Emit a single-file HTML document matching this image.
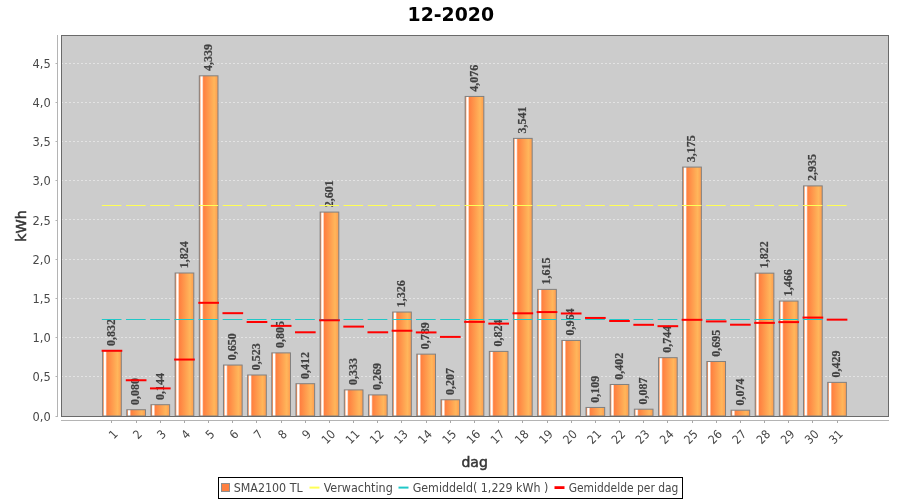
<!DOCTYPE html>
<html><head><meta charset="utf-8"><title>12-2020</title>
<style>
html,body{margin:0;padding:0;background:#fff;width:900px;height:500px;overflow:hidden}
svg{display:block}
.t{font-family:"DejaVu Sans Condensed","DejaVu Sans","Liberation Sans",sans-serif;font-size:12px;fill:#484848}
.b{font-family:"DejaVu Sans Condensed","DejaVu Sans","Liberation Sans",sans-serif;font-weight:bold;fill:#484848}
.a{font-family:"DejaVu Sans","Liberation Sans",sans-serif;font-size:13.6px;fill:#363636;stroke:#363636;stroke-width:0.5px}
.s{font-family:"Liberation Serif","DejaVu Serif",serif;font-weight:bold;font-size:12px;fill:#404040;stroke:#404040;stroke-width:0.2px}
</style></head><body>
<svg width="900" height="500" viewBox="0 0 900 500">
<defs><linearGradient id="g" x1="0" y1="0" x2="1" y2="0"><stop offset="0.03" stop-color="#ff8848"/><stop offset="0.09" stop-color="#ffffff"/><stop offset="0.15" stop-color="#ffffff"/><stop offset="0.23" stop-color="#ff8040"/><stop offset="0.8" stop-color="#ffb65b"/><stop offset="1" stop-color="#ff9c4e"/></linearGradient></defs>
<rect width="900" height="500" fill="#fff"/>
<text class="b" x="450.8" y="20.8" text-anchor="middle" font-size="20.3" style="fill:#000;font-family:'DejaVu Sans','Liberation Sans',sans-serif" textLength="86.5" lengthAdjust="spacingAndGlyphs">12-2020</text>
<rect x="61.5" y="35.5" width="827" height="381" fill="#cccccc"/>
<line x1="61" x2="888" y1="376.50" y2="376.50" stroke="#fff" stroke-opacity="0.45" stroke-width="1" stroke-dasharray="2 2"/>
<line x1="61" x2="888" y1="337.50" y2="337.50" stroke="#fff" stroke-opacity="0.45" stroke-width="1" stroke-dasharray="2 2"/>
<line x1="61" x2="888" y1="298.50" y2="298.50" stroke="#fff" stroke-opacity="0.45" stroke-width="1" stroke-dasharray="2 2"/>
<line x1="61" x2="888" y1="259.50" y2="259.50" stroke="#fff" stroke-opacity="0.45" stroke-width="1" stroke-dasharray="2 2"/>
<line x1="61" x2="888" y1="219.50" y2="219.50" stroke="#fff" stroke-opacity="0.45" stroke-width="1" stroke-dasharray="2 2"/>
<line x1="61" x2="888" y1="180.50" y2="180.50" stroke="#fff" stroke-opacity="0.45" stroke-width="1" stroke-dasharray="2 2"/>
<line x1="61" x2="888" y1="141.50" y2="141.50" stroke="#fff" stroke-opacity="0.45" stroke-width="1" stroke-dasharray="2 2"/>
<line x1="61" x2="888" y1="102.50" y2="102.50" stroke="#fff" stroke-opacity="0.45" stroke-width="1" stroke-dasharray="2 2"/>
<line x1="61" x2="888" y1="63.50" y2="63.50" stroke="#fff" stroke-opacity="0.45" stroke-width="1" stroke-dasharray="2 2"/>
<rect x="102.62" y="350.77" width="18.67" height="65.23" fill="url(#g)" stroke="#808080" stroke-width="1"/>
<rect x="126.79" y="409.73" width="18.67" height="6.27" fill="url(#g)" stroke="#808080" stroke-width="1"/>
<rect x="150.96" y="404.71" width="18.67" height="11.29" fill="url(#g)" stroke="#808080" stroke-width="1"/>
<rect x="175.13" y="273.00" width="18.67" height="143.00" fill="url(#g)" stroke="#808080" stroke-width="1"/>
<rect x="199.30" y="75.82" width="18.67" height="340.18" fill="url(#g)" stroke="#808080" stroke-width="1"/>
<rect x="223.47" y="365.04" width="18.67" height="50.96" fill="url(#g)" stroke="#808080" stroke-width="1"/>
<rect x="247.64" y="375.00" width="18.67" height="41.00" fill="url(#g)" stroke="#808080" stroke-width="1"/>
<rect x="271.80" y="352.89" width="18.67" height="63.11" fill="url(#g)" stroke="#808080" stroke-width="1"/>
<rect x="295.97" y="383.70" width="18.67" height="32.30" fill="url(#g)" stroke="#808080" stroke-width="1"/>
<rect x="320.14" y="212.08" width="18.67" height="203.92" fill="url(#g)" stroke="#808080" stroke-width="1"/>
<rect x="344.31" y="389.89" width="18.67" height="26.11" fill="url(#g)" stroke="#808080" stroke-width="1"/>
<rect x="368.48" y="394.91" width="18.67" height="21.09" fill="url(#g)" stroke="#808080" stroke-width="1"/>
<rect x="392.65" y="312.04" width="18.67" height="103.96" fill="url(#g)" stroke="#808080" stroke-width="1"/>
<rect x="416.82" y="354.14" width="18.67" height="61.86" fill="url(#g)" stroke="#808080" stroke-width="1"/>
<rect x="440.99" y="399.77" width="18.67" height="16.23" fill="url(#g)" stroke="#808080" stroke-width="1"/>
<rect x="465.16" y="96.44" width="18.67" height="319.56" fill="url(#g)" stroke="#808080" stroke-width="1"/>
<rect x="489.33" y="351.40" width="18.67" height="64.60" fill="url(#g)" stroke="#808080" stroke-width="1"/>
<rect x="513.50" y="138.39" width="18.67" height="277.61" fill="url(#g)" stroke="#808080" stroke-width="1"/>
<rect x="537.67" y="289.38" width="18.67" height="126.62" fill="url(#g)" stroke="#808080" stroke-width="1"/>
<rect x="561.84" y="340.42" width="18.67" height="75.58" fill="url(#g)" stroke="#808080" stroke-width="1"/>
<rect x="586.01" y="407.45" width="18.67" height="8.55" fill="url(#g)" stroke="#808080" stroke-width="1"/>
<rect x="610.18" y="384.48" width="18.67" height="31.52" fill="url(#g)" stroke="#808080" stroke-width="1"/>
<rect x="634.35" y="409.18" width="18.67" height="6.82" fill="url(#g)" stroke="#808080" stroke-width="1"/>
<rect x="658.52" y="357.67" width="18.67" height="58.33" fill="url(#g)" stroke="#808080" stroke-width="1"/>
<rect x="682.69" y="167.08" width="18.67" height="248.92" fill="url(#g)" stroke="#808080" stroke-width="1"/>
<rect x="706.86" y="361.51" width="18.67" height="54.49" fill="url(#g)" stroke="#808080" stroke-width="1"/>
<rect x="731.03" y="410.20" width="18.67" height="5.80" fill="url(#g)" stroke="#808080" stroke-width="1"/>
<rect x="755.20" y="273.16" width="18.67" height="142.84" fill="url(#g)" stroke="#808080" stroke-width="1"/>
<rect x="779.37" y="301.07" width="18.67" height="114.93" fill="url(#g)" stroke="#808080" stroke-width="1"/>
<rect x="803.54" y="185.90" width="18.67" height="230.10" fill="url(#g)" stroke="#808080" stroke-width="1"/>
<rect x="827.71" y="382.37" width="18.67" height="33.63" fill="url(#g)" stroke="#808080" stroke-width="1"/>
<text class="s" transform="translate(115.25 345.97) rotate(-90)">0,832</text>
<text class="s" transform="translate(139.42 404.93) rotate(-90)">0,080</text>
<text class="s" transform="translate(163.59 399.91) rotate(-90)">0,144</text>
<text class="s" transform="translate(187.76 268.20) rotate(-90)">1,824</text>
<text class="s" transform="translate(211.93 71.02) rotate(-90)">4,339</text>
<text class="s" transform="translate(236.10 360.24) rotate(-90)">0,650</text>
<text class="s" transform="translate(260.27 370.20) rotate(-90)">0,523</text>
<text class="s" transform="translate(284.44 348.09) rotate(-90)">0,805</text>
<text class="s" transform="translate(308.61 378.90) rotate(-90)">0,412</text>
<text class="s" transform="translate(332.78 207.28) rotate(-90)">2,601</text>
<text class="s" transform="translate(356.95 385.09) rotate(-90)">0,333</text>
<text class="s" transform="translate(381.12 390.11) rotate(-90)">0,269</text>
<text class="s" transform="translate(405.29 307.24) rotate(-90)">1,326</text>
<text class="s" transform="translate(429.46 349.34) rotate(-90)">0,789</text>
<text class="s" transform="translate(453.63 394.97) rotate(-90)">0,207</text>
<text class="s" transform="translate(477.80 91.64) rotate(-90)">4,076</text>
<text class="s" transform="translate(501.97 346.60) rotate(-90)">0,824</text>
<text class="s" transform="translate(526.14 133.59) rotate(-90)">3,541</text>
<text class="s" transform="translate(550.31 284.58) rotate(-90)">1,615</text>
<text class="s" transform="translate(574.48 335.62) rotate(-90)">0,964</text>
<text class="s" transform="translate(598.65 402.65) rotate(-90)">0,109</text>
<text class="s" transform="translate(622.82 379.68) rotate(-90)">0,402</text>
<text class="s" transform="translate(646.99 404.38) rotate(-90)">0,087</text>
<text class="s" transform="translate(671.16 352.87) rotate(-90)">0,744</text>
<text class="s" transform="translate(695.33 162.28) rotate(-90)">3,175</text>
<text class="s" transform="translate(719.50 356.71) rotate(-90)">0,695</text>
<text class="s" transform="translate(743.67 405.40) rotate(-90)">0,074</text>
<text class="s" transform="translate(767.84 268.36) rotate(-90)">1,822</text>
<text class="s" transform="translate(792.01 296.27) rotate(-90)">1,466</text>
<text class="s" transform="translate(816.18 181.10) rotate(-90)">2,935</text>
<text class="s" transform="translate(840.35 377.57) rotate(-90)">0,429</text>
<line x1="102.32" x2="120.99" y1="205.50" y2="205.50" stroke="#ffff55" stroke-width="1" stroke-linecap="square"/>
<line x1="126.49" x2="145.16" y1="205.50" y2="205.50" stroke="#ffff55" stroke-width="1" stroke-linecap="square"/>
<line x1="150.66" x2="169.33" y1="205.50" y2="205.50" stroke="#ffff55" stroke-width="1" stroke-linecap="square"/>
<line x1="174.83" x2="193.50" y1="205.50" y2="205.50" stroke="#ffff55" stroke-width="1" stroke-linecap="square"/>
<line x1="199.00" x2="217.67" y1="205.50" y2="205.50" stroke="#ffff55" stroke-width="1" stroke-linecap="square"/>
<line x1="223.17" x2="241.84" y1="205.50" y2="205.50" stroke="#ffff55" stroke-width="1" stroke-linecap="square"/>
<line x1="247.34" x2="266.01" y1="205.50" y2="205.50" stroke="#ffff55" stroke-width="1" stroke-linecap="square"/>
<line x1="271.50" x2="290.18" y1="205.50" y2="205.50" stroke="#ffff55" stroke-width="1" stroke-linecap="square"/>
<line x1="295.67" x2="314.35" y1="205.50" y2="205.50" stroke="#ffff55" stroke-width="1" stroke-linecap="square"/>
<line x1="319.84" x2="338.52" y1="205.50" y2="205.50" stroke="#ffff55" stroke-width="1" stroke-linecap="square"/>
<line x1="344.01" x2="362.69" y1="205.50" y2="205.50" stroke="#ffff55" stroke-width="1" stroke-linecap="square"/>
<line x1="368.18" x2="386.86" y1="205.50" y2="205.50" stroke="#ffff55" stroke-width="1" stroke-linecap="square"/>
<line x1="392.35" x2="411.03" y1="205.50" y2="205.50" stroke="#ffff55" stroke-width="1" stroke-linecap="square"/>
<line x1="416.52" x2="435.20" y1="205.50" y2="205.50" stroke="#ffff55" stroke-width="1" stroke-linecap="square"/>
<line x1="440.69" x2="459.37" y1="205.50" y2="205.50" stroke="#ffff55" stroke-width="1" stroke-linecap="square"/>
<line x1="464.86" x2="483.54" y1="205.50" y2="205.50" stroke="#ffff55" stroke-width="1" stroke-linecap="square"/>
<line x1="489.03" x2="507.71" y1="205.50" y2="205.50" stroke="#ffff55" stroke-width="1" stroke-linecap="square"/>
<line x1="513.20" x2="531.88" y1="205.50" y2="205.50" stroke="#ffff55" stroke-width="1" stroke-linecap="square"/>
<line x1="537.37" x2="556.05" y1="205.50" y2="205.50" stroke="#ffff55" stroke-width="1" stroke-linecap="square"/>
<line x1="561.54" x2="580.22" y1="205.50" y2="205.50" stroke="#ffff55" stroke-width="1" stroke-linecap="square"/>
<line x1="585.71" x2="604.39" y1="205.50" y2="205.50" stroke="#ffff55" stroke-width="1" stroke-linecap="square"/>
<line x1="609.88" x2="628.56" y1="205.50" y2="205.50" stroke="#ffff55" stroke-width="1" stroke-linecap="square"/>
<line x1="634.05" x2="652.73" y1="205.50" y2="205.50" stroke="#ffff55" stroke-width="1" stroke-linecap="square"/>
<line x1="658.22" x2="676.90" y1="205.50" y2="205.50" stroke="#ffff55" stroke-width="1" stroke-linecap="square"/>
<line x1="682.39" x2="701.06" y1="205.50" y2="205.50" stroke="#ffff55" stroke-width="1" stroke-linecap="square"/>
<line x1="706.56" x2="725.23" y1="205.50" y2="205.50" stroke="#ffff55" stroke-width="1" stroke-linecap="square"/>
<line x1="730.73" x2="749.40" y1="205.50" y2="205.50" stroke="#ffff55" stroke-width="1" stroke-linecap="square"/>
<line x1="754.90" x2="773.57" y1="205.50" y2="205.50" stroke="#ffff55" stroke-width="1" stroke-linecap="square"/>
<line x1="779.07" x2="797.74" y1="205.50" y2="205.50" stroke="#ffff55" stroke-width="1" stroke-linecap="square"/>
<line x1="803.24" x2="821.91" y1="205.50" y2="205.50" stroke="#ffff55" stroke-width="1" stroke-linecap="square"/>
<line x1="827.41" x2="846.08" y1="205.50" y2="205.50" stroke="#ffff55" stroke-width="1" stroke-linecap="square"/>
<line x1="102.32" x2="120.99" y1="319.50" y2="319.50" stroke="#20c8c8" stroke-width="1" stroke-linecap="square"/>
<line x1="126.49" x2="145.16" y1="319.50" y2="319.50" stroke="#20c8c8" stroke-width="1" stroke-linecap="square"/>
<line x1="150.66" x2="169.33" y1="319.50" y2="319.50" stroke="#20c8c8" stroke-width="1" stroke-linecap="square"/>
<line x1="174.83" x2="193.50" y1="319.50" y2="319.50" stroke="#20c8c8" stroke-width="1" stroke-linecap="square"/>
<line x1="199.00" x2="217.67" y1="319.50" y2="319.50" stroke="#20c8c8" stroke-width="1" stroke-linecap="square"/>
<line x1="223.17" x2="241.84" y1="319.50" y2="319.50" stroke="#20c8c8" stroke-width="1" stroke-linecap="square"/>
<line x1="247.34" x2="266.01" y1="319.50" y2="319.50" stroke="#20c8c8" stroke-width="1" stroke-linecap="square"/>
<line x1="271.50" x2="290.18" y1="319.50" y2="319.50" stroke="#20c8c8" stroke-width="1" stroke-linecap="square"/>
<line x1="295.67" x2="314.35" y1="319.50" y2="319.50" stroke="#20c8c8" stroke-width="1" stroke-linecap="square"/>
<line x1="319.84" x2="338.52" y1="319.50" y2="319.50" stroke="#20c8c8" stroke-width="1" stroke-linecap="square"/>
<line x1="344.01" x2="362.69" y1="319.50" y2="319.50" stroke="#20c8c8" stroke-width="1" stroke-linecap="square"/>
<line x1="368.18" x2="386.86" y1="319.50" y2="319.50" stroke="#20c8c8" stroke-width="1" stroke-linecap="square"/>
<line x1="392.35" x2="411.03" y1="319.50" y2="319.50" stroke="#20c8c8" stroke-width="1" stroke-linecap="square"/>
<line x1="416.52" x2="435.20" y1="319.50" y2="319.50" stroke="#20c8c8" stroke-width="1" stroke-linecap="square"/>
<line x1="440.69" x2="459.37" y1="319.50" y2="319.50" stroke="#20c8c8" stroke-width="1" stroke-linecap="square"/>
<line x1="464.86" x2="483.54" y1="319.50" y2="319.50" stroke="#20c8c8" stroke-width="1" stroke-linecap="square"/>
<line x1="489.03" x2="507.71" y1="319.50" y2="319.50" stroke="#20c8c8" stroke-width="1" stroke-linecap="square"/>
<line x1="513.20" x2="531.88" y1="319.50" y2="319.50" stroke="#20c8c8" stroke-width="1" stroke-linecap="square"/>
<line x1="537.37" x2="556.05" y1="319.50" y2="319.50" stroke="#20c8c8" stroke-width="1" stroke-linecap="square"/>
<line x1="561.54" x2="580.22" y1="319.50" y2="319.50" stroke="#20c8c8" stroke-width="1" stroke-linecap="square"/>
<line x1="585.71" x2="604.39" y1="319.50" y2="319.50" stroke="#20c8c8" stroke-width="1" stroke-linecap="square"/>
<line x1="609.88" x2="628.56" y1="319.50" y2="319.50" stroke="#20c8c8" stroke-width="1" stroke-linecap="square"/>
<line x1="634.05" x2="652.73" y1="319.50" y2="319.50" stroke="#20c8c8" stroke-width="1" stroke-linecap="square"/>
<line x1="658.22" x2="676.90" y1="319.50" y2="319.50" stroke="#20c8c8" stroke-width="1" stroke-linecap="square"/>
<line x1="682.39" x2="701.06" y1="319.50" y2="319.50" stroke="#20c8c8" stroke-width="1" stroke-linecap="square"/>
<line x1="706.56" x2="725.23" y1="319.50" y2="319.50" stroke="#20c8c8" stroke-width="1" stroke-linecap="square"/>
<line x1="730.73" x2="749.40" y1="319.50" y2="319.50" stroke="#20c8c8" stroke-width="1" stroke-linecap="square"/>
<line x1="754.90" x2="773.57" y1="319.50" y2="319.50" stroke="#20c8c8" stroke-width="1" stroke-linecap="square"/>
<line x1="779.07" x2="797.74" y1="319.50" y2="319.50" stroke="#20c8c8" stroke-width="1" stroke-linecap="square"/>
<line x1="803.24" x2="821.91" y1="319.50" y2="319.50" stroke="#20c8c8" stroke-width="1" stroke-linecap="square"/>
<line x1="827.41" x2="846.08" y1="319.50" y2="319.50" stroke="#20c8c8" stroke-width="1" stroke-linecap="square"/>
<line x1="102.62" x2="121.29" y1="350.77" y2="350.77" stroke="#ff0000" stroke-width="2" stroke-linecap="square"/>
<line x1="126.79" x2="145.46" y1="380.25" y2="380.25" stroke="#ff0000" stroke-width="2" stroke-linecap="square"/>
<line x1="150.96" x2="169.63" y1="388.40" y2="388.40" stroke="#ff0000" stroke-width="2" stroke-linecap="square"/>
<line x1="175.13" x2="193.80" y1="359.55" y2="359.55" stroke="#ff0000" stroke-width="2" stroke-linecap="square"/>
<line x1="199.30" x2="217.97" y1="302.81" y2="302.81" stroke="#ff0000" stroke-width="2" stroke-linecap="square"/>
<line x1="223.47" x2="242.14" y1="313.18" y2="313.18" stroke="#ff0000" stroke-width="2" stroke-linecap="square"/>
<line x1="247.64" x2="266.31" y1="322.01" y2="322.01" stroke="#ff0000" stroke-width="2" stroke-linecap="square"/>
<line x1="271.80" x2="290.48" y1="325.87" y2="325.87" stroke="#ff0000" stroke-width="2" stroke-linecap="square"/>
<line x1="295.97" x2="314.65" y1="332.29" y2="332.29" stroke="#ff0000" stroke-width="2" stroke-linecap="square"/>
<line x1="320.14" x2="338.82" y1="320.27" y2="320.27" stroke="#ff0000" stroke-width="2" stroke-linecap="square"/>
<line x1="344.31" x2="362.99" y1="326.60" y2="326.60" stroke="#ff0000" stroke-width="2" stroke-linecap="square"/>
<line x1="368.48" x2="387.16" y1="332.29" y2="332.29" stroke="#ff0000" stroke-width="2" stroke-linecap="square"/>
<line x1="392.65" x2="411.33" y1="330.74" y2="330.74" stroke="#ff0000" stroke-width="2" stroke-linecap="square"/>
<line x1="416.82" x2="435.50" y1="332.41" y2="332.41" stroke="#ff0000" stroke-width="2" stroke-linecap="square"/>
<line x1="440.99" x2="459.67" y1="336.90" y2="336.90" stroke="#ff0000" stroke-width="2" stroke-linecap="square"/>
<line x1="465.16" x2="483.84" y1="321.87" y2="321.87" stroke="#ff0000" stroke-width="2" stroke-linecap="square"/>
<line x1="489.33" x2="508.01" y1="323.61" y2="323.61" stroke="#ff0000" stroke-width="2" stroke-linecap="square"/>
<line x1="513.50" x2="532.18" y1="313.32" y2="313.32" stroke="#ff0000" stroke-width="2" stroke-linecap="square"/>
<line x1="537.67" x2="556.35" y1="312.06" y2="312.06" stroke="#ff0000" stroke-width="2" stroke-linecap="square"/>
<line x1="561.84" x2="580.52" y1="313.48" y2="313.48" stroke="#ff0000" stroke-width="2" stroke-linecap="square"/>
<line x1="586.01" x2="604.69" y1="317.95" y2="317.95" stroke="#ff0000" stroke-width="2" stroke-linecap="square"/>
<line x1="610.18" x2="628.86" y1="320.98" y2="320.98" stroke="#ff0000" stroke-width="2" stroke-linecap="square"/>
<line x1="634.35" x2="653.03" y1="324.81" y2="324.81" stroke="#ff0000" stroke-width="2" stroke-linecap="square"/>
<line x1="658.52" x2="677.20" y1="326.18" y2="326.18" stroke="#ff0000" stroke-width="2" stroke-linecap="square"/>
<line x1="682.69" x2="701.36" y1="319.82" y2="319.82" stroke="#ff0000" stroke-width="2" stroke-linecap="square"/>
<line x1="706.86" x2="725.53" y1="321.42" y2="321.42" stroke="#ff0000" stroke-width="2" stroke-linecap="square"/>
<line x1="731.03" x2="749.70" y1="324.71" y2="324.71" stroke="#ff0000" stroke-width="2" stroke-linecap="square"/>
<line x1="755.20" x2="773.87" y1="322.87" y2="322.87" stroke="#ff0000" stroke-width="2" stroke-linecap="square"/>
<line x1="779.37" x2="798.04" y1="322.11" y2="322.11" stroke="#ff0000" stroke-width="2" stroke-linecap="square"/>
<line x1="803.54" x2="822.21" y1="317.57" y2="317.57" stroke="#ff0000" stroke-width="2" stroke-linecap="square"/>
<line x1="827.71" x2="846.38" y1="319.66" y2="319.66" stroke="#ff0000" stroke-width="2" stroke-linecap="square"/>
<rect x="61.5" y="35.5" width="827" height="381" fill="none" stroke="#6a6a6a" stroke-width="1"/>
<line x1="57.5" x2="57.5" y1="35" y2="417" stroke="#b4b4b4" stroke-width="1"/>
<line x1="55.5" x2="57.5" y1="416.50" y2="416.50" stroke="#b4b4b4" stroke-width="1"/>
<text class="t" x="50.8" y="420.90" text-anchor="end" textLength="18.2" lengthAdjust="spacingAndGlyphs">0,0</text>
<line x1="55.5" x2="57.5" y1="376.50" y2="376.50" stroke="#b4b4b4" stroke-width="1"/>
<text class="t" x="50.8" y="380.90" text-anchor="end" textLength="18.2" lengthAdjust="spacingAndGlyphs">0,5</text>
<line x1="55.5" x2="57.5" y1="337.50" y2="337.50" stroke="#b4b4b4" stroke-width="1"/>
<text class="t" x="50.8" y="341.90" text-anchor="end" textLength="18.2" lengthAdjust="spacingAndGlyphs">1,0</text>
<line x1="55.5" x2="57.5" y1="298.50" y2="298.50" stroke="#b4b4b4" stroke-width="1"/>
<text class="t" x="50.8" y="302.90" text-anchor="end" textLength="18.2" lengthAdjust="spacingAndGlyphs">1,5</text>
<line x1="55.5" x2="57.5" y1="259.50" y2="259.50" stroke="#b4b4b4" stroke-width="1"/>
<text class="t" x="50.8" y="263.90" text-anchor="end" textLength="18.2" lengthAdjust="spacingAndGlyphs">2,0</text>
<line x1="55.5" x2="57.5" y1="220.50" y2="220.50" stroke="#b4b4b4" stroke-width="1"/>
<text class="t" x="50.8" y="224.90" text-anchor="end" textLength="18.2" lengthAdjust="spacingAndGlyphs">2,5</text>
<line x1="55.5" x2="57.5" y1="180.50" y2="180.50" stroke="#b4b4b4" stroke-width="1"/>
<text class="t" x="50.8" y="184.90" text-anchor="end" textLength="18.2" lengthAdjust="spacingAndGlyphs">3,0</text>
<line x1="55.5" x2="57.5" y1="141.50" y2="141.50" stroke="#b4b4b4" stroke-width="1"/>
<text class="t" x="50.8" y="145.90" text-anchor="end" textLength="18.2" lengthAdjust="spacingAndGlyphs">3,5</text>
<line x1="55.5" x2="57.5" y1="102.50" y2="102.50" stroke="#b4b4b4" stroke-width="1"/>
<text class="t" x="50.8" y="106.90" text-anchor="end" textLength="18.2" lengthAdjust="spacingAndGlyphs">4,0</text>
<line x1="55.5" x2="57.5" y1="63.50" y2="63.50" stroke="#b4b4b4" stroke-width="1"/>
<text class="t" x="50.8" y="67.90" text-anchor="end" textLength="18.2" lengthAdjust="spacingAndGlyphs">4,5</text>
<line x1="61" x2="889" y1="420.5" y2="420.5" stroke="#b4b4b4" stroke-width="1"/>
<line x1="111.50" x2="111.50" y1="420.5" y2="423" stroke="#a8a8a8" stroke-width="1"/>
<text class="t" transform="translate(110.15 426.5) rotate(-45)" x="0" y="12" text-anchor="end" textLength="6.90" lengthAdjust="spacingAndGlyphs">1</text>
<line x1="136.50" x2="136.50" y1="420.5" y2="423" stroke="#a8a8a8" stroke-width="1"/>
<text class="t" transform="translate(134.32 426.5) rotate(-45)" x="0" y="12" text-anchor="end" textLength="6.90" lengthAdjust="spacingAndGlyphs">2</text>
<line x1="160.50" x2="160.50" y1="420.5" y2="423" stroke="#a8a8a8" stroke-width="1"/>
<text class="t" transform="translate(158.49 426.5) rotate(-45)" x="0" y="12" text-anchor="end" textLength="6.90" lengthAdjust="spacingAndGlyphs">3</text>
<line x1="184.50" x2="184.50" y1="420.5" y2="423" stroke="#a8a8a8" stroke-width="1"/>
<text class="t" transform="translate(182.66 426.5) rotate(-45)" x="0" y="12" text-anchor="end" textLength="6.90" lengthAdjust="spacingAndGlyphs">4</text>
<line x1="208.50" x2="208.50" y1="420.5" y2="423" stroke="#a8a8a8" stroke-width="1"/>
<text class="t" transform="translate(206.83 426.5) rotate(-45)" x="0" y="12" text-anchor="end" textLength="6.90" lengthAdjust="spacingAndGlyphs">5</text>
<line x1="232.50" x2="232.50" y1="420.5" y2="423" stroke="#a8a8a8" stroke-width="1"/>
<text class="t" transform="translate(231.00 426.5) rotate(-45)" x="0" y="12" text-anchor="end" textLength="6.90" lengthAdjust="spacingAndGlyphs">6</text>
<line x1="256.50" x2="256.50" y1="420.5" y2="423" stroke="#a8a8a8" stroke-width="1"/>
<text class="t" transform="translate(255.17 426.5) rotate(-45)" x="0" y="12" text-anchor="end" textLength="6.90" lengthAdjust="spacingAndGlyphs">7</text>
<line x1="281.50" x2="281.50" y1="420.5" y2="423" stroke="#a8a8a8" stroke-width="1"/>
<text class="t" transform="translate(279.34 426.5) rotate(-45)" x="0" y="12" text-anchor="end" textLength="6.90" lengthAdjust="spacingAndGlyphs">8</text>
<line x1="305.50" x2="305.50" y1="420.5" y2="423" stroke="#a8a8a8" stroke-width="1"/>
<text class="t" transform="translate(303.51 426.5) rotate(-45)" x="0" y="12" text-anchor="end" textLength="6.90" lengthAdjust="spacingAndGlyphs">9</text>
<line x1="329.50" x2="329.50" y1="420.5" y2="423" stroke="#a8a8a8" stroke-width="1"/>
<text class="t" transform="translate(327.68 426.5) rotate(-45)" x="0" y="12" text-anchor="end" textLength="13.80" lengthAdjust="spacingAndGlyphs">10</text>
<line x1="353.50" x2="353.50" y1="420.5" y2="423" stroke="#a8a8a8" stroke-width="1"/>
<text class="t" transform="translate(351.85 426.5) rotate(-45)" x="0" y="12" text-anchor="end" textLength="13.80" lengthAdjust="spacingAndGlyphs">11</text>
<line x1="377.50" x2="377.50" y1="420.5" y2="423" stroke="#a8a8a8" stroke-width="1"/>
<text class="t" transform="translate(376.02 426.5) rotate(-45)" x="0" y="12" text-anchor="end" textLength="13.80" lengthAdjust="spacingAndGlyphs">12</text>
<line x1="401.50" x2="401.50" y1="420.5" y2="423" stroke="#a8a8a8" stroke-width="1"/>
<text class="t" transform="translate(400.19 426.5) rotate(-45)" x="0" y="12" text-anchor="end" textLength="13.80" lengthAdjust="spacingAndGlyphs">13</text>
<line x1="426.50" x2="426.50" y1="420.5" y2="423" stroke="#a8a8a8" stroke-width="1"/>
<text class="t" transform="translate(424.36 426.5) rotate(-45)" x="0" y="12" text-anchor="end" textLength="13.80" lengthAdjust="spacingAndGlyphs">14</text>
<line x1="450.50" x2="450.50" y1="420.5" y2="423" stroke="#a8a8a8" stroke-width="1"/>
<text class="t" transform="translate(448.53 426.5) rotate(-45)" x="0" y="12" text-anchor="end" textLength="13.80" lengthAdjust="spacingAndGlyphs">15</text>
<line x1="474.50" x2="474.50" y1="420.5" y2="423" stroke="#a8a8a8" stroke-width="1"/>
<text class="t" transform="translate(472.70 426.5) rotate(-45)" x="0" y="12" text-anchor="end" textLength="13.80" lengthAdjust="spacingAndGlyphs">16</text>
<line x1="498.50" x2="498.50" y1="420.5" y2="423" stroke="#a8a8a8" stroke-width="1"/>
<text class="t" transform="translate(496.87 426.5) rotate(-45)" x="0" y="12" text-anchor="end" textLength="13.80" lengthAdjust="spacingAndGlyphs">17</text>
<line x1="522.50" x2="522.50" y1="420.5" y2="423" stroke="#a8a8a8" stroke-width="1"/>
<text class="t" transform="translate(521.04 426.5) rotate(-45)" x="0" y="12" text-anchor="end" textLength="13.80" lengthAdjust="spacingAndGlyphs">18</text>
<line x1="547.50" x2="547.50" y1="420.5" y2="423" stroke="#a8a8a8" stroke-width="1"/>
<text class="t" transform="translate(545.21 426.5) rotate(-45)" x="0" y="12" text-anchor="end" textLength="13.80" lengthAdjust="spacingAndGlyphs">19</text>
<line x1="571.50" x2="571.50" y1="420.5" y2="423" stroke="#a8a8a8" stroke-width="1"/>
<text class="t" transform="translate(569.38 426.5) rotate(-45)" x="0" y="12" text-anchor="end" textLength="13.80" lengthAdjust="spacingAndGlyphs">20</text>
<line x1="595.50" x2="595.50" y1="420.5" y2="423" stroke="#a8a8a8" stroke-width="1"/>
<text class="t" transform="translate(593.55 426.5) rotate(-45)" x="0" y="12" text-anchor="end" textLength="13.80" lengthAdjust="spacingAndGlyphs">21</text>
<line x1="619.50" x2="619.50" y1="420.5" y2="423" stroke="#a8a8a8" stroke-width="1"/>
<text class="t" transform="translate(617.72 426.5) rotate(-45)" x="0" y="12" text-anchor="end" textLength="13.80" lengthAdjust="spacingAndGlyphs">22</text>
<line x1="643.50" x2="643.50" y1="420.5" y2="423" stroke="#a8a8a8" stroke-width="1"/>
<text class="t" transform="translate(641.89 426.5) rotate(-45)" x="0" y="12" text-anchor="end" textLength="13.80" lengthAdjust="spacingAndGlyphs">23</text>
<line x1="667.50" x2="667.50" y1="420.5" y2="423" stroke="#a8a8a8" stroke-width="1"/>
<text class="t" transform="translate(666.06 426.5) rotate(-45)" x="0" y="12" text-anchor="end" textLength="13.80" lengthAdjust="spacingAndGlyphs">24</text>
<line x1="692.50" x2="692.50" y1="420.5" y2="423" stroke="#a8a8a8" stroke-width="1"/>
<text class="t" transform="translate(690.23 426.5) rotate(-45)" x="0" y="12" text-anchor="end" textLength="13.80" lengthAdjust="spacingAndGlyphs">25</text>
<line x1="716.50" x2="716.50" y1="420.5" y2="423" stroke="#a8a8a8" stroke-width="1"/>
<text class="t" transform="translate(714.40 426.5) rotate(-45)" x="0" y="12" text-anchor="end" textLength="13.80" lengthAdjust="spacingAndGlyphs">26</text>
<line x1="740.50" x2="740.50" y1="420.5" y2="423" stroke="#a8a8a8" stroke-width="1"/>
<text class="t" transform="translate(738.57 426.5) rotate(-45)" x="0" y="12" text-anchor="end" textLength="13.80" lengthAdjust="spacingAndGlyphs">27</text>
<line x1="764.50" x2="764.50" y1="420.5" y2="423" stroke="#a8a8a8" stroke-width="1"/>
<text class="t" transform="translate(762.74 426.5) rotate(-45)" x="0" y="12" text-anchor="end" textLength="13.80" lengthAdjust="spacingAndGlyphs">28</text>
<line x1="788.50" x2="788.50" y1="420.5" y2="423" stroke="#a8a8a8" stroke-width="1"/>
<text class="t" transform="translate(786.91 426.5) rotate(-45)" x="0" y="12" text-anchor="end" textLength="13.80" lengthAdjust="spacingAndGlyphs">29</text>
<line x1="812.50" x2="812.50" y1="420.5" y2="423" stroke="#a8a8a8" stroke-width="1"/>
<text class="t" transform="translate(811.08 426.5) rotate(-45)" x="0" y="12" text-anchor="end" textLength="13.80" lengthAdjust="spacingAndGlyphs">30</text>
<line x1="837.50" x2="837.50" y1="420.5" y2="423" stroke="#a8a8a8" stroke-width="1"/>
<text class="t" transform="translate(835.25 426.5) rotate(-45)" x="0" y="12" text-anchor="end" textLength="13.80" lengthAdjust="spacingAndGlyphs">31</text>
<text class="a" x="474.6" y="466.9" text-anchor="middle" textLength="26.4" lengthAdjust="spacingAndGlyphs">dag</text>
<text class="a" transform="translate(25.6 226) rotate(-90)" text-anchor="middle" textLength="31.4" lengthAdjust="spacingAndGlyphs">kWh</text>
<rect x="218.5" y="477.5" width="464" height="21" fill="#fff" stroke="#000" stroke-width="1"/>
<rect x="221.5" y="483.5" width="8" height="8" fill="#ff8040" stroke="#909090" stroke-width="1"/>
<text class="t" x="233.7" y="492.4" textLength="69" lengthAdjust="spacingAndGlyphs">SMA2100 TL</text>
<line x1="309.5" x2="319.5" y1="487.6" y2="487.6" stroke="#ffff55" stroke-width="2"/>
<text class="t" x="323.7" y="492.4" textLength="69.1" lengthAdjust="spacingAndGlyphs">Verwachting</text>
<line x1="398.5" x2="408.5" y1="487.6" y2="487.6" stroke="#20c8c8" stroke-width="2"/>
<text class="t" x="412.7" y="492.4" textLength="135.6" lengthAdjust="spacingAndGlyphs" xml:space="preserve">Gemiddeld( 1,229 kWh )</text>
<line x1="554.5" x2="564.5" y1="487.6" y2="487.6" stroke="#ff0000" stroke-width="2.8"/>
<text class="t" x="568.7" y="492.4" textLength="109.7" lengthAdjust="spacingAndGlyphs">Gemiddelde per dag</text>
</svg>
</body></html>
